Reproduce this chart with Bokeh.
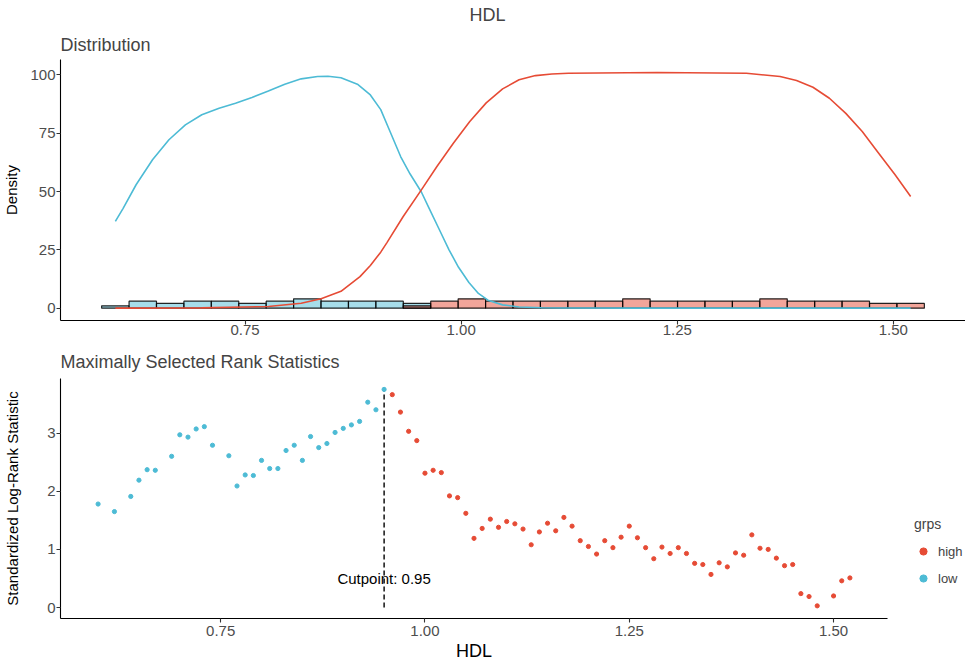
from bokeh.plotting import figure
from bokeh.models import Range1d, FixedTicker, Title, Legend, LegendItem
from bokeh.layouts import column
from bokeh.embed import file_html
from bokeh.resources import INLINE
from bokeh.core.properties import value

FONT = "Liberation Sans"
RED = "#E64B35"
BLUE = "#4DBBD5"
TICK_COL = "#4D4D4D"

# ---------------- data ----------------
hdl_min, hdl_max = 0.60, 1.52
n_bins = 30
hist_low_counts = [1, 3, 2, 3, 3, 2, 3, 4, 3, 3, 3, 2] + [0] * 18
hist_high_counts = [0] * 11 + [1, 3, 4, 3, 3, 3, 3, 3, 4, 3, 3, 3, 3, 4, 3, 3, 3, 2, 2]

dens_low_x = [0.600, 0.609, 0.624, 0.643, 0.662, 0.681, 0.700, 0.720, 0.739, 0.758,
              0.777, 0.796, 0.815, 0.834, 0.846, 0.861, 0.880, 0.895, 0.907, 0.918,
              0.930, 0.941, 0.954, 0.963, 0.975, 0.986, 0.997, 1.009, 1.020, 1.031,
              1.048, 1.067, 1.093, 1.120, 1.200, 1.520]
dens_low_y = [37.2, 42.8, 52.9, 63.6, 72.2, 78.6, 82.9, 85.7, 87.8, 90.3,
              93.1, 96.0, 98.3, 99.3, 99.4, 98.8, 96.0, 91.4, 85.1, 75.5,
              65.0, 57.5, 49.8, 42.8, 33.5, 25.0, 17.5, 11.0, 6.3, 3.4,
              1.4, 0.5, 0.15, 0.05, 0.0, 0.0]

dens_high_x = [0.600, 0.700, 0.777, 0.815, 0.838, 0.861, 0.883, 0.895, 0.907, 0.914,
               0.933, 0.954, 0.972, 0.991, 1.010, 1.029, 1.048, 1.067, 1.086, 1.105,
               1.124, 1.227, 1.330, 1.369, 1.388, 1.407, 1.426, 1.445, 1.464, 1.483,
               1.502, 1.520]
dens_high_y = [0.0, 0.1, 0.7, 2.1, 4.0, 7.2, 13.5, 18.3, 24.0, 28.0,
               39.3, 50.7, 60.7, 70.7, 80.0, 88.0, 94.0, 97.9, 99.7, 100.4,
               100.7, 101.0, 100.7, 99.3, 97.6, 94.7, 90.0, 83.5, 75.7, 66.4,
               57.2, 47.9]

stat_low_x = [0.60, 0.62, 0.64, 0.65, 0.66, 0.67, 0.69, 0.70, 0.71, 0.72, 0.73, 0.74,
              0.76, 0.77, 0.78, 0.79, 0.80, 0.81, 0.82, 0.83, 0.84, 0.85, 0.86, 0.87,
              0.88, 0.89, 0.90, 0.91, 0.92, 0.93, 0.94, 0.95]
stat_low_y = [1.78, 1.65, 1.91, 2.19, 2.37, 2.36, 2.60, 2.97, 2.93, 3.07, 3.11, 2.79,
              2.61, 2.09, 2.28, 2.27, 2.53, 2.39, 2.39, 2.70, 2.79, 2.53, 2.94, 2.75,
              2.82, 3.01, 3.08, 3.14, 3.20, 3.53, 3.40, 3.75]

stat_high_x = [0.96, 0.97, 0.98, 0.99, 1.00, 1.01, 1.02, 1.03, 1.04, 1.05, 1.06, 1.07,
               1.08, 1.09, 1.10, 1.11, 1.12, 1.13, 1.14, 1.15, 1.16, 1.17, 1.18, 1.19,
               1.20, 1.21, 1.22, 1.23, 1.24, 1.25, 1.26, 1.27, 1.28, 1.29, 1.30, 1.31,
               1.32, 1.33, 1.34, 1.35, 1.36, 1.37, 1.38, 1.39, 1.40, 1.41, 1.42, 1.43,
               1.44, 1.45, 1.46, 1.47, 1.48, 1.50, 1.51, 1.52]
stat_high_y = [3.66, 3.36, 3.03, 2.87, 2.31, 2.36, 2.32, 1.92, 1.89, 1.62, 1.19, 1.36,
               1.52, 1.38, 1.48, 1.44, 1.35, 1.08, 1.30, 1.45, 1.32, 1.55, 1.40, 1.15,
               1.05, 0.92, 1.15, 1.03, 1.21, 1.40, 1.20, 1.03, 0.84, 1.04, 0.93, 1.03,
               0.93, 0.76, 0.74, 0.57, 0.77, 0.70, 0.94, 0.90, 1.25, 1.02, 1.00, 0.85,
               0.72, 0.74, 0.24, 0.19, 0.03, 0.20, 0.46, 0.51]

cutpoint = 0.95
x_ticks = [0.75, 1.00, 1.25, 1.50]
x_tick_labels = ["0.75", "1.00", "1.25", "1.50"]
dens_ticks = [0, 25, 50, 75, 100]
stat_ticks = [0, 1, 2, 3]
group_labels = ["high", "low"]

# ---------------- helpers ----------------
def style_axes(p, ylabel, ylabel_standoff):
    for ax in (p.xaxis[0], p.yaxis[0]):
        ax.axis_line_color = "black"
        ax.axis_line_width = 1.1
        ax.major_tick_line_color = "#333333"
        ax.major_tick_line_width = 1.1
        ax.major_tick_out = 4
        ax.major_tick_in = 0
        ax.minor_tick_line_color = None
        ax.major_label_text_font = FONT
        ax.major_label_text_font_size = "15px"
        ax.major_label_text_color = TICK_COL
        ax.axis_label_text_font = FONT
        ax.axis_label_text_font_style = "normal"
        ax.axis_label_text_color = "black"
    p.xaxis[0].ticker = FixedTicker(ticks=x_ticks)
    p.xaxis[0].major_label_overrides = dict(zip(x_ticks, x_tick_labels))
    p.xaxis[0].major_label_standoff = 0
    p.yaxis[0].major_label_standoff = 1
    p.yaxis[0].axis_label = ylabel
    p.yaxis[0].axis_label_standoff = ylabel_standoff
    p.yaxis[0].axis_label_text_font_size = "15px"
    p.xgrid.grid_line_color = None
    p.ygrid.grid_line_color = None
    p.outline_line_color = None


# ---------------- top: distribution ----------------
w = (hdl_max - hdl_min) / (n_bins - 1)
edges = [hdl_min - w / 2 + k * w for k in range(n_bins + 1)]
h_lo, h_hi = edges[0], edges[-1]
pad = 0.05 * (h_hi - h_lo)

top = figure(frame_width=905, frame_height=261, output_backend="svg", toolbar_location=None,
             x_range=Range1d(h_lo - pad, h_hi + pad), y_range=Range1d(-5.3, 106.6),
             min_border_left=0, min_border_right=0, min_border_top=0, min_border_bottom=23)
top.add_layout(Title(text="Distribution", align="left", text_font=FONT,
                     text_font_size="18px", text_font_style="normal", standoff=10), "above")
top.add_layout(Title(text="HDL", align="left", offset=409, text_font=FONT,
                     text_font_size="18px", text_font_style="normal", standoff=5), "above")

for counts, col in ((hist_low_counts, BLUE), (hist_high_counts, RED)):
    L = [edges[i] for i in range(n_bins) if counts[i] > 0]
    R = [edges[i + 1] for i in range(n_bins) if counts[i] > 0]
    T = [c for c in counts if c > 0]
    top.quad(left=L, right=R, bottom=0, top=T, fill_color=col, fill_alpha=0.5,
             line_color="black", line_width=1.2, line_alpha=0.85)

top.line(dens_low_x, dens_low_y, line_color=BLUE, line_width=1.6)
top.line(dens_high_x, dens_high_y, line_color=RED, line_width=1.6)
style_axes(top, "Density", 7)
top.yaxis[0].ticker = FixedTicker(ticks=dens_ticks)

# ---------------- bottom: max stat ----------------
s_lo, s_hi = min(stat_low_x), max(stat_high_x)
spad = 0.05 * (s_hi - s_lo)
ymax = max(stat_low_y + stat_high_y)
ypad = 0.05 * ymax

bot = figure(frame_width=827, frame_height=240, output_backend="svg", toolbar_location=None,
             x_range=Range1d(s_lo - spad, s_hi + spad), y_range=Range1d(-ypad, ymax + ypad),
             min_border_left=0, min_border_right=0, min_border_top=0, min_border_bottom=0)
bot.add_layout(Title(text="Maximally Selected Rank Statistics", align="left", text_font=FONT,
                     text_font_size="18px", text_font_style="normal", standoff=13), "above")

bot.segment(x0=[cutpoint], y0=[0], x1=[cutpoint], y1=[ymax], line_color="black",
            line_width=1.4, line_dash="5 3")
r_hi = bot.scatter(stat_high_x, stat_high_y, size=4.2, fill_color=RED, line_color=RED)
r_lo = bot.scatter(stat_low_x, stat_low_y, size=4.2, fill_color=BLUE, line_color=BLUE)
bot.text(x=[cutpoint], y=[0.5], text=["Cutpoint: %.2f" % cutpoint], text_font=value(FONT),
         text_font_size="15px", text_align="center", text_baseline="middle", text_color="black")

style_axes(bot, "Standardized Log-Rank Statistic", 23)
bot.yaxis[0].ticker = FixedTicker(ticks=stat_ticks)
bot.xaxis[0].major_label_standoff = 3
bot.xaxis[0].axis_label = "HDL"
bot.xaxis[0].axis_label_text_font_size = "18px"
bot.xaxis[0].axis_label_standoff = 2

legend = Legend(items=[LegendItem(label=group_labels[0], renderers=[r_hi]),
                       LegendItem(label=group_labels[1], renderers=[r_lo])],
                title="grps", location=(27, 31), orientation="vertical", margin=0,
                label_text_font=FONT, label_text_font_size="13px",
                title_text_font=FONT, title_text_font_size="14px", title_text_font_style="normal",
                title_standoff=10,
                border_line_color=None, background_fill_alpha=0,
                glyph_width=18, glyph_height=18, label_standoff=6, spacing=9, padding=2)
bot.add_layout(legend, "right")

layout = column(top, bot, spacing=0)
open("out.html", "w").write(file_html(layout, INLINE))
